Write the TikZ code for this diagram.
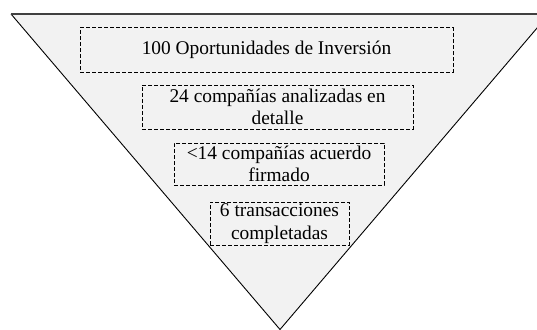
\documentclass[tikz,border=0pt]{standalone}
\usepackage{fontspec}
\setmainfont{Liberation Serif}
\begin{document}
\begin{tikzpicture}[x=1pt,y=-1pt,
  stage/.style={draw=black, line width=1pt, dash pattern=on 4pt off 2pt, inner sep=0pt, align=center, font=\fontsize{19.4}{22.5}\selectfont},
]
\useasboundingbox (0,0) rectangle (537,329);
\begin{scope}
\clip (0,0) rectangle (537,329);
\coordinate (tl) at (11,14);
\coordinate (tr) at (549,14);
\coordinate (apex) at (280,329.5);
\fill[black!5] (tl) -- (tr) -- (apex) -- cycle;
\draw[line width=0.9pt] (tr) -- (apex) -- (tl);
\draw[line width=1.1pt, black!75] (tl) -- (tr);
\end{scope}
\node[stage, minimum width=373, minimum height=44] (s1) at (266.5,50) {100 Oportunidades de Inversión};
\node[stage, minimum width=271, minimum height=44] (s2) at (277.5,107) {24 compañías analizadas en\\detalle};
\node[stage, minimum width=210, minimum height=42] (s3) at (279,164) {<14 compañías acuerdo\\firmado};
\node[stage, minimum width=139, minimum height=43] (s4) at (279.5,223.5) {6 transacciones\\completadas};
\end{tikzpicture}
\end{document}
